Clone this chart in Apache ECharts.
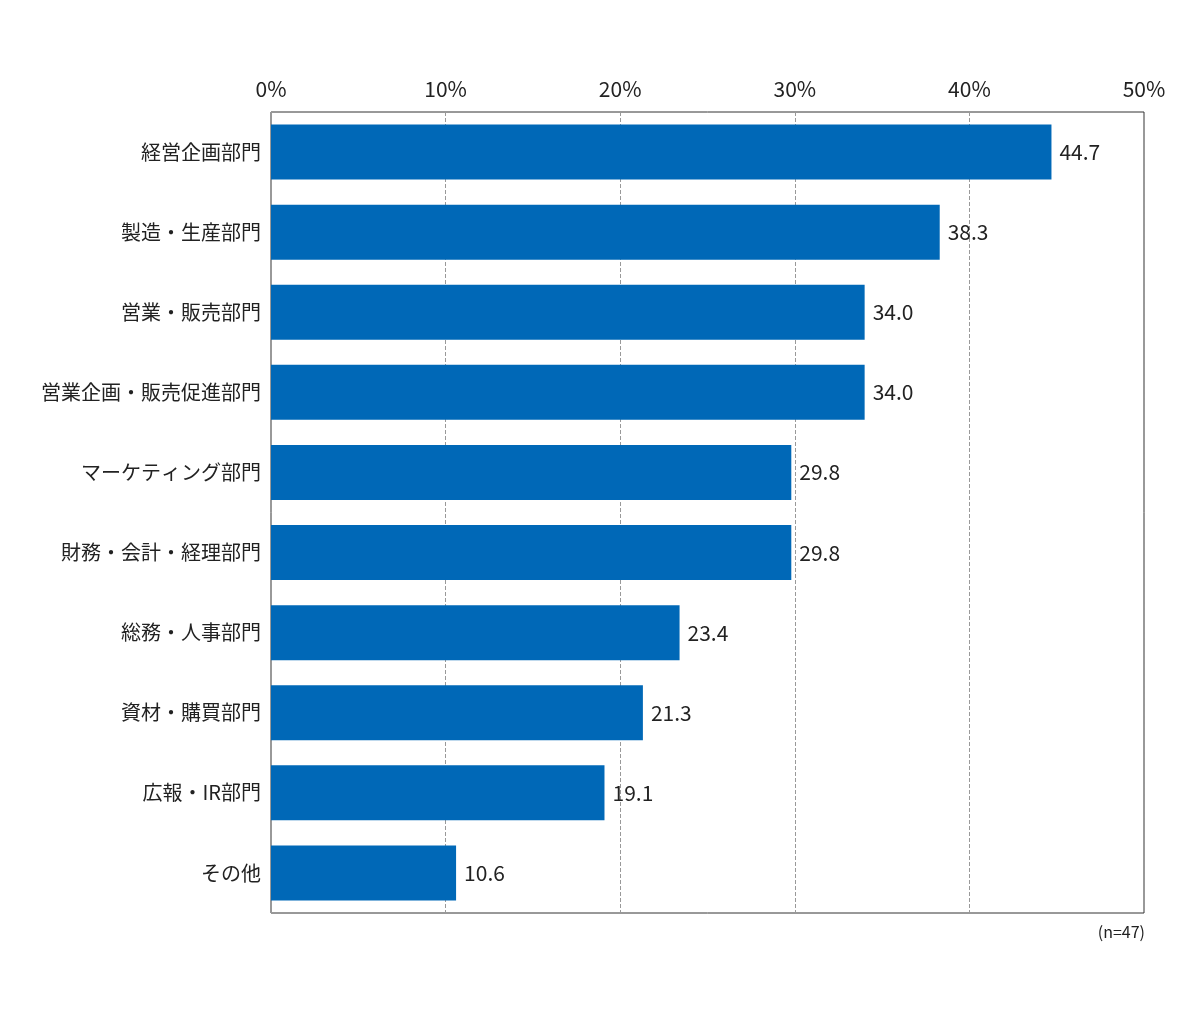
<!DOCTYPE html>
<html>
<head>
<meta charset="utf-8">
<script src="https://cdn.jsdelivr.net/npm/echarts@6/dist/echarts.min.js"></script>
<style>html,body{margin:0;padding:0;background:#fff}#chart{width:1200px;height:1028px}</style>
</head>
<body>
<div id="chart"></div>
<script>
var categories = ['経営企画部門', '製造・生産部門', '営業・販売部門', '営業企画・販売促進部門', 'マーケティング部門',
    '財務・会計・経理部門', '総務・人事部門', '資材・購買部門', '広報・IR部門', 'その他'];
var values = [44.7, 38.3, 34.0, 34.0, 29.8, 29.8, 23.4, 21.3, 19.1, 10.6];

var font = '"Noto Sans CJK JP", "Noto Sans", sans-serif';
var myChart = echarts.init(document.getElementById('chart'));
var option = {
    animation: false,
    textStyle: { fontFamily: font },
    grid: { left: 271, right: 56, top: 112, bottom: 115, show: true, borderColor: '#333', borderWidth: 1 },
    graphic: [{
        type: 'text', right: 55, top: 924,
        style: { text: '(n=47)', font: '16px ' + font, fill: '#222' }
    }],
    xAxis: {
        type: 'value', position: 'top', min: 0, max: 50, interval: 10,
        axisLabel: { formatter: '{value}%', fontSize: 21, color: '#222', margin: 12 },
        axisLine: { show: false }, axisTick: { show: false },
        splitLine: { lineStyle: { type: 'dashed', color: '#999' } }
    },
    yAxis: {
        type: 'category', inverse: true, data: categories,
        axisLabel: { fontSize: 20, color: '#222', margin: 10 },
        axisLine: { show: false }, axisTick: { show: false }
    },
    series: [{
        type: 'bar', data: values, barWidth: 55,
        itemStyle: { color: '#0068b7' },
        label: { show: true, position: 'right', fontSize: 21, color: '#222', distance: 8,
            formatter: function (p) { return p.value.toFixed(1); } }
    }]
};
myChart.setOption(option);
</script>
</body>
</html>
